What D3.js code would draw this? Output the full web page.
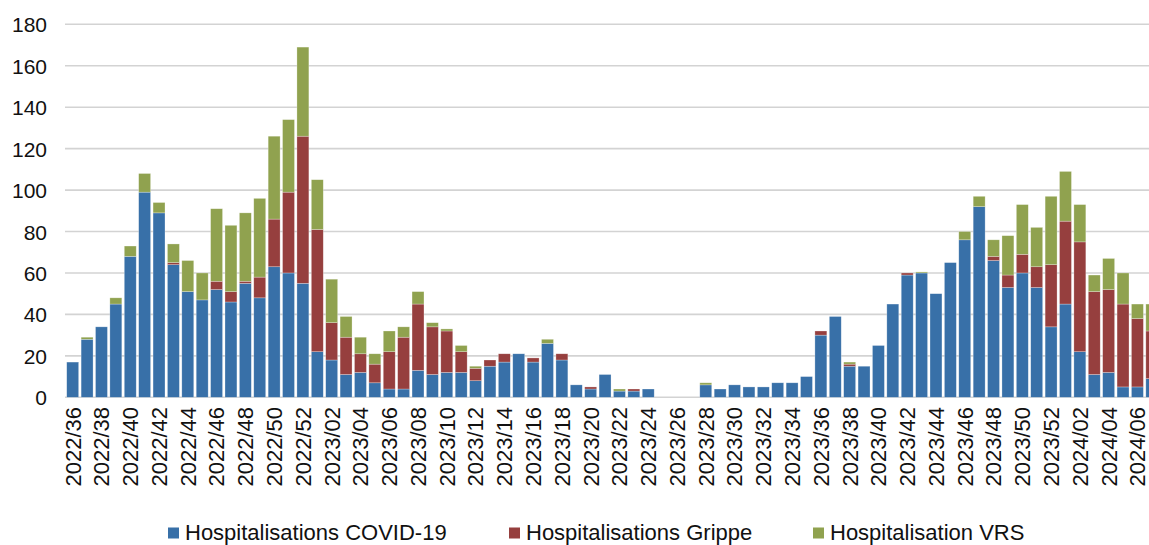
<!DOCTYPE html>
<html>
<head>
<meta charset="utf-8">
<script src="https://cdn.jsdelivr.net/npm/d3@7/dist/d3.min.js"></script>
<style>
  html, body { margin: 0; padding: 0; background: #fff; }
  svg { display: block; font-family: "Liberation Sans", Arial, sans-serif; }
</style>
</head>
<body>
<svg id="chart" width="1149" height="545"></svg>
<script>
const weeks = [
  "2022/36","2022/37","2022/38","2022/39","2022/40","2022/41","2022/42","2022/43","2022/44","2022/45",
  "2022/46","2022/47","2022/48","2022/49","2022/50","2022/51","2022/52",
  "2023/01","2023/02","2023/03","2023/04","2023/05","2023/06","2023/07","2023/08","2023/09","2023/10",
  "2023/11","2023/12","2023/13","2023/14","2023/15","2023/16","2023/17","2023/18","2023/19","2023/20",
  "2023/21","2023/22","2023/23","2023/24","2023/25","2023/26","2023/27","2023/28","2023/29","2023/30",
  "2023/31","2023/32","2023/33","2023/34","2023/35","2023/36","2023/37","2023/38","2023/39","2023/40",
  "2023/41","2023/42","2023/43","2023/44","2023/45","2023/46","2023/47","2023/48","2023/49","2023/50",
  "2023/51","2023/52",
  "2024/01","2024/02","2024/03","2024/04","2024/05","2024/06","2024/07"
];
const covid = [
  17,28,34,45,68,99,89,64,51,47,
  52,46,55,48,63,60,55,
  22,18,11,12,7,4,4,13,11,12,
  12,8,15,17,21,17,26,18,6,4,
  11,3,3,4,0,0,0,6,4,6,
  5,5,7,7,10,30,39,15,15,25,
  45,59,60,50,65,76,92,66,53,60,
  53,34,
  45,22,11,12,5,5,9
];
const grippe = [
  0,0,0,0,0,0,0,1,0,0,
  4,5,1,10,23,39,71,
  59,18,18,9,9,18,25,32,23,20,
  10,6,3,4,0,2,0,3,0,1,
  0,0,1,0,0,0,0,0,0,0,
  0,0,0,0,0,2,0,1,0,0,
  0,1,0,0,0,0,0,2,6,9,
  10,30,
  40,53,40,40,40,33,23
];
const vrs = [
  0,1,0,3,5,9,5,9,15,13,
  35,32,33,38,40,35,43,
  24,21,10,8,5,10,5,6,2,1,
  3,1,0,0,0,0,2,0,0,0,
  0,1,0,0,0,0,0,1,0,0,
  0,0,0,0,0,0,0,1,0,0,
  0,0,0.5,0,0,4,5,8,19,24,
  19,33,
  24,18,8,15,15,7,13
];
const yTicks = [0,20,40,60,80,100,120,140,160,180];
const seriesNames = ["Hospitalisations COVID-19","Hospitalisations Grippe","Hospitalisation VRS"];
const seriesKeys = ["covid","grippe","vrs"];
const colors = ["#3870a8","#963f3e","#90a24f"];

const rows = weeks.map((w,i) => ({week: w, covid: covid[i], grippe: grippe[i], vrs: vrs[i]}));

const svg = d3.select("#chart");
const x = d3.scaleBand().domain(weeks).range([65.5, 1159]).paddingInner(0.17).paddingOuter(0.085);
const y = d3.scaleLinear().domain([0,180]).range([397.3, 24.3]);

// gridlines
svg.append("g").selectAll("line").data(yTicks).join("line")
  .attr("x1", 65).attr("x2", 1149)
  .attr("y1", d => y(d)).attr("y2", d => y(d))
  .attr("stroke", "#d3d3d3").attr("stroke-width", 1.6);

// y axis labels
const yAxis = d3.axisLeft(y).tickValues(yTicks).tickSize(0).tickPadding(0);
const yg = svg.append("g").attr("transform", "translate(47,0)").call(yAxis);
yg.select(".domain").remove();
yg.selectAll("text").attr("font-size", 21).attr("fill", "#111").attr("font-family", "Liberation Sans, Arial, sans-serif").attr("dy", "0.36em");

// stacked bars
const stack = d3.stack().keys(seriesKeys);
const stacked = stack(rows);
svg.append("g").selectAll("g").data(stacked).join("g")
  .attr("fill", (d,i) => colors[i])
  .selectAll("rect").data(d => d).join("rect")
  .attr("x", d => x(d.data.week))
  .attr("width", x.bandwidth())
  .attr("y", d => y(d[1]))
  .attr("height", d => Math.max(0, y(d[0]) - y(d[1])))
  .attr("stroke", "rgba(255,255,255,0.45)").attr("stroke-width", 0.6);

// x axis labels (every other week)
const xAxis = d3.axisBottom(x).tickValues(weeks.filter((w,i) => i % 2 === 0)).tickSize(0).tickPadding(0);
const xg = svg.append("g").attr("transform", "translate(0,407)").call(xAxis);
xg.select(".domain").remove();
xg.selectAll("text")
  .attr("font-size", 22).attr("fill", "#111")
  .attr("font-family", "Liberation Sans, Arial, sans-serif")
  .attr("text-anchor", "end")
  .attr("transform", "rotate(-90)")
  .attr("x", 0).attr("y", 0).attr("dx", 0).attr("dy", "0.36em");

// legend
const legendX = [168, 509, 813];
const lg = svg.append("g");
seriesNames.forEach((name, i) => {
  lg.append("rect").attr("x", legendX[i]).attr("y", 527.5).attr("width", 11).attr("height", 11).attr("fill", colors[i]);
  lg.append("text").attr("x", legendX[i] + 17).attr("y", 540).attr("font-size", 22).attr("fill", "#111").text(name);
});
</script>
</body>
</html>
